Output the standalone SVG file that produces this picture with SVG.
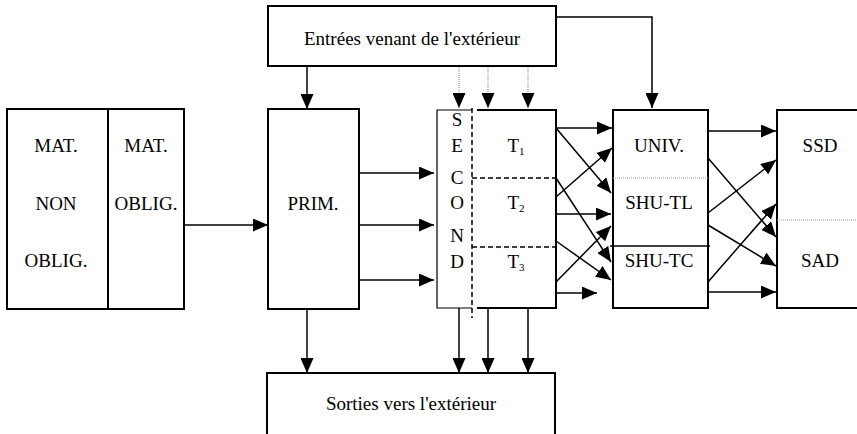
<svg xmlns="http://www.w3.org/2000/svg" width="857" height="434" viewBox="0 0 857 434">
<style>
.box{fill:#fff;stroke:#000;stroke-width:2}
.thin{fill:none;stroke:#000;stroke-width:1.2}
.t{font-family:"Liberation Serif","Times New Roman",serif;font-size:19px;fill:#000;text-anchor:middle}
.sub{font-size:11px}
.c{fill:none;stroke:#000;stroke-width:1.5}
.dot{fill:none;stroke:#888;stroke-width:1;stroke-dasharray:1,1}
.dash{fill:none;stroke:#000;stroke-width:1.5;stroke-dasharray:5,3}
</style>
<defs>
<marker id="ah" viewBox="0 0 15 13" refX="15" refY="6.5" markerWidth="15" markerHeight="13" markerUnits="userSpaceOnUse" orient="auto">
<path d="M0,0 L15,6.5 L0,13 Z" fill="#000"/>
</marker>
</defs>
<rect width="857" height="434" fill="#fff"/>

<g id="entrees">
<rect class="box" x="268" y="6" width="288" height="60"/>
<text class="t" x="412" y="45">Entrées venant de l'extérieur</text>
</g>

<g id="mat">
<rect class="box" x="7" y="109" width="177" height="200"/>
<line x1="108" y1="109" x2="108" y2="309" stroke="#000" stroke-width="2"/>
<text class="t" x="56" y="152">MAT.</text>
<text class="t" x="56" y="210">NON</text>
<text class="t" x="56" y="267">OBLIG.</text>
<text class="t" x="146" y="152">MAT.</text>
<text class="t" x="146" y="210">OBLIG.</text>
</g>

<g id="prim">
<rect class="box" x="268" y="109" width="91" height="200"/>
<text class="t" x="313" y="210">PRIM.</text>
</g>

<g id="second">
<rect x="437" y="110" width="119" height="198" fill="#fff"/>
<path class="thin" d="M472,110 H437 V308 H472"/>
<path d="M477,110 H556 V308 H477" fill="none" stroke="#000" stroke-width="2"/>
<line class="dash" x1="472" y1="108" x2="472" y2="318"/>
<line class="dash" x1="472" y1="178" x2="556" y2="178"/>
<line class="dash" x1="472" y1="247" x2="556" y2="247"/>
<text class="t" x="457" y="126">S</text>
<text class="t" x="457" y="152">E</text>
<text class="t" x="457" y="184">C</text>
<text class="t" x="457" y="209">O</text>
<text class="t" x="457" y="242">N</text>
<text class="t" x="457" y="268">D</text>
<text class="t" x="516" y="152">T<tspan class="sub" dy="3">1</tspan></text>
<text class="t" x="516" y="209">T<tspan class="sub" dy="3">2</tspan></text>
<text class="t" x="516" y="268">T<tspan class="sub" dy="3">3</tspan></text>
</g>

<g id="univ">
<rect class="box" x="613" y="110" width="95" height="198"/>
<line x1="613" y1="178" x2="708" y2="178" stroke="#999" stroke-width="1" stroke-dasharray="1,1"/>
<line x1="610" y1="246" x2="710" y2="246" stroke="#000" stroke-width="1.3"/>
<text class="t" x="659" y="152">UNIV.</text>
<text class="t" x="659" y="209">SHU-TL</text>
<text class="t" x="659" y="267">SHU-TC</text>
</g>

<g id="ssd">
<rect class="box" x="777" y="110" width="100" height="198"/>
<line x1="777" y1="220" x2="857" y2="220" stroke="#999" stroke-width="1" stroke-dasharray="1,1"/>
<text class="t" x="820" y="152">SSD</text>
<text class="t" x="820" y="267">SAD</text>
</g>

<g id="sorties">
<rect class="box" x="267" y="373" width="288" height="80"/>
<text class="t" x="411" y="410">Sorties vers l'extérieur</text>
</g>

<g id="connectors">
<line class="c" x1="307" y1="66" x2="307" y2="109" marker-end="url(#ah)"/>
<line class="c" x1="184" y1="225" x2="268" y2="225" marker-end="url(#ah)"/>
<line class="c" x1="360" y1="173" x2="434" y2="173" marker-end="url(#ah)"/>
<line class="c" x1="360" y1="225" x2="434" y2="225" marker-end="url(#ah)"/>
<line class="c" x1="360" y1="280" x2="434" y2="280" marker-end="url(#ah)"/>
<line class="c" x1="307" y1="309" x2="307" y2="373" marker-end="url(#ah)"/>
<line class="dot" x1="459" y1="67" x2="459" y2="108" marker-end="url(#ah)"/>
<line class="dot" x1="488" y1="67" x2="488" y2="108" marker-end="url(#ah)"/>
<line class="dot" x1="528" y1="67" x2="528" y2="108" marker-end="url(#ah)"/>
<line class="c" x1="459" y1="308" x2="459" y2="373" marker-end="url(#ah)"/>
<line class="c" x1="488" y1="308" x2="488" y2="373" marker-end="url(#ah)"/>
<line class="c" x1="528" y1="308" x2="528" y2="373" marker-end="url(#ah)"/>
<path class="c" d="M556,17 H652 V108" marker-end="url(#ah)"/>
<line class="c" x1="556" y1="128" x2="612" y2="128" marker-end="url(#ah)"/>
<line class="c" x1="556" y1="128" x2="611" y2="193" marker-end="url(#ah)"/>
<line class="c" x1="556" y1="178" x2="611" y2="262" marker-end="url(#ah)"/>
<line class="c" x1="556" y1="197" x2="612" y2="148" marker-end="url(#ah)"/>
<line class="c" x1="556" y1="214" x2="611" y2="214" marker-end="url(#ah)"/>
<line class="c" x1="556" y1="241" x2="611" y2="280" marker-end="url(#ah)"/>
<line class="c" x1="556" y1="282" x2="611" y2="226" marker-end="url(#ah)"/>
<line class="c" x1="556" y1="293" x2="597" y2="293" marker-end="url(#ah)"/>
<line class="c" x1="708" y1="131" x2="776" y2="131" marker-end="url(#ah)"/>
<line class="c" x1="708" y1="158" x2="776" y2="237" marker-end="url(#ah)"/>
<line class="c" x1="708" y1="213" x2="776" y2="160" marker-end="url(#ah)"/>
<line class="c" x1="708" y1="225" x2="776" y2="266" marker-end="url(#ah)"/>
<line class="c" x1="708" y1="282" x2="776" y2="204" marker-end="url(#ah)"/>
<line class="c" x1="708" y1="292" x2="776" y2="292" marker-end="url(#ah)"/>
</g>
</svg>
